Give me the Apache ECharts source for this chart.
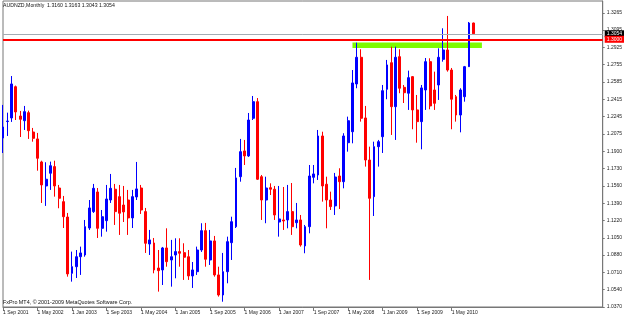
<!DOCTYPE html>
<html><head><meta charset="utf-8">
<script src="https://cdn.jsdelivr.net/npm/echarts@6/dist/echarts.min.js"></script>
<style>html,body{margin:0;padding:0;background:#fff}#c{width:625px;height:318px}</style>
</head><body><div id="c"></div>
<script>
const categories = [
'1 Sep 2001','1 Oct 2001','1 Nov 2001','1 Dec 2001',
'1 Jan 2002','1 Feb 2002','1 Mar 2002','1 Apr 2002','1 May 2002','1 Jun 2002','1 Jul 2002','1 Aug 2002','1 Sep 2002','1 Oct 2002','1 Nov 2002','1 Dec 2002',
'1 Jan 2003','1 Feb 2003','1 Mar 2003','1 Apr 2003','1 May 2003','1 Jun 2003','1 Jul 2003','1 Aug 2003','1 Sep 2003','1 Oct 2003','1 Nov 2003','1 Dec 2003',
'1 Jan 2004','1 Feb 2004','1 Mar 2004','1 Apr 2004','1 May 2004','1 Jun 2004','1 Jul 2004','1 Aug 2004','1 Sep 2004','1 Oct 2004','1 Nov 2004','1 Dec 2004',
'1 Jan 2005','1 Feb 2005','1 Mar 2005','1 Apr 2005','1 May 2005','1 Jun 2005','1 Jul 2005','1 Aug 2005','1 Sep 2005','1 Oct 2005','1 Nov 2005','1 Dec 2005',
'1 Jan 2006','1 Feb 2006','1 Mar 2006','1 Apr 2006','1 May 2006','1 Jun 2006','1 Jul 2006','1 Aug 2006','1 Sep 2006','1 Oct 2006','1 Nov 2006','1 Dec 2006',
'1 Jan 2007','1 Feb 2007','1 Mar 2007','1 Apr 2007','1 May 2007','1 Jun 2007','1 Jul 2007','1 Aug 2007','1 Sep 2007','1 Oct 2007','1 Nov 2007','1 Dec 2007',
'1 Jan 2008','1 Feb 2008','1 Mar 2008','1 Apr 2008','1 May 2008','1 Jun 2008','1 Jul 2008','1 Aug 2008','1 Sep 2008','1 Oct 2008','1 Nov 2008','1 Dec 2008',
'1 Jan 2009','1 Feb 2009','1 Mar 2009','1 Apr 2009','1 May 2009','1 Jun 2009','1 Jul 2009','1 Aug 2009','1 Sep 2009','1 Oct 2009','1 Nov 2009','1 Dec 2009',
'1 Jan 2010','1 Feb 2010','1 Mar 2010','1 Apr 2010','1 May 2010','1 Jun 2010','1 Jul 2010','1 Aug 2010','1 Sep 2010','1 Oct 2010'
];
const open = [
1.2030,1.2192,1.2227,1.2534,1.2246,1.2200,1.2279,1.2089,1.2021,1.1795,
1.1559,1.1684,1.1749,1.1539,1.1405,1.1254,1.0701,1.0766,1.0864,1.0881,
1.1146,1.1307,1.1500,1.1143,1.1218,1.1421,1.1527,1.1454,1.1372,1.1421,
1.1245,1.1451,1.1539,1.1307,1.0989,1.0999,1.0753,1.0734,1.0950,1.0832,
1.0881,1.0914,1.0904,1.0864,1.0675,1.0717,1.0930,1.1120,1.0832,1.1019,
1.0685,1.0488,1.0717,1.1002,1.1159,1.1650,1.1903,1.1854,1.2224,1.2387,
1.1650,1.1421,1.1542,1.1527,1.1205,1.1225,1.1225,1.1307,1.1198,1.1225,
1.0970,1.1159,1.1644,1.1667,1.2050,1.1576,1.1421,1.1363,1.1657,1.1601,
1.1984,1.2092,1.2561,1.2823,1.2227,1.1814,1.1454,1.1945,1.2043,1.2509,
1.2770,1.2338,1.2829,1.2528,1.2470,1.2633,1.2306,1.2191,1.2502,1.2780,
1.2502,1.2551,1.2803,1.2895,1.2698,1.2436,1.2256,1.2436,1.2731,1.3160
];
const close = [
1.2138,1.2197,1.2561,1.2286,1.2214,1.2289,1.2102,1.2027,1.1831,1.1569,
1.1625,1.1758,1.1559,1.1438,1.1257,1.0695,1.0766,1.0864,1.0901,1.1159,
1.1343,1.1536,1.1143,1.1257,1.1431,1.1536,1.1307,1.1291,1.1304,1.1245,
1.1454,1.1530,1.1323,1.0996,1.1029,1.0734,1.0727,1.0950,1.0815,1.0864,
1.0914,1.0898,1.0859,1.0675,1.0734,1.0930,1.1120,1.0839,1.1019,1.0685,
1.0488,1.0717,1.1012,1.1208,1.1638,1.1896,1.1854,1.2207,1.2387,1.1625,
1.1421,1.1539,1.1527,1.1274,1.1235,1.1215,1.1307,1.1159,1.1225,1.0979,
1.1159,1.1657,1.1677,1.2050,1.1559,1.1421,1.1356,1.1647,1.1601,1.2050,
1.2200,1.2571,1.2823,1.2224,1.1814,1.1438,1.1945,1.1994,1.2495,1.2748,
1.2338,1.2823,1.2519,1.2475,1.2623,1.2306,1.2191,1.2522,1.2780,1.2345,
1.2371,1.2823,1.2895,1.2698,1.2411,1.2256,1.2502,1.2731,1.3160,1.3054
];
const low = [
1.1883,1.2050,1.2188,1.2207,1.2040,1.2109,1.2021,1.1994,1.1709,1.1392,
1.1363,1.1520,1.1454,1.1340,1.1146,1.0668,1.0619,1.0655,1.0685,1.0864,
1.1127,1.1294,1.1048,1.1061,1.1110,1.1392,1.1176,1.1078,1.1205,1.1078,
1.1146,1.1421,1.1284,1.0901,1.0881,1.0701,1.0521,1.0586,1.0766,1.0570,
1.0652,1.0766,1.0636,1.0636,1.0557,1.0685,1.0911,1.0766,1.0783,1.0668,
1.0472,1.0422,1.0603,1.0832,1.1146,1.1601,1.1765,1.1844,1.2207,1.1618,
1.1225,1.1193,1.1470,1.1225,1.1061,1.1127,1.1143,1.1078,1.1143,1.0963,
1.0898,1.1094,1.1585,1.1618,1.1405,1.1143,1.1323,1.1274,1.1333,1.1536,
1.1896,1.1978,1.2519,1.2191,1.1749,1.0636,1.1264,1.1749,1.1883,1.2411,
1.2060,1.2011,1.2470,1.2374,1.2306,1.2116,1.1984,1.1919,1.2306,1.2312,
1.2306,1.2404,1.2780,1.2682,1.2116,1.2191,1.2086,1.2387,1.2728,1.3043
];
const high = [
1.2355,1.2279,1.2639,1.2545,1.2296,1.2345,1.2299,1.2129,1.2080,1.1807,
1.1792,1.1798,1.1807,1.1569,1.1461,1.1294,1.0914,1.0930,1.0963,1.1225,
1.1421,1.1579,1.1539,1.1323,1.1569,1.1677,1.1579,1.1569,1.1559,1.1520,
1.1520,1.1795,1.1569,1.1343,1.1127,1.1048,1.0930,1.0960,1.1143,1.1029,
1.1045,1.1045,1.0996,1.0930,1.0812,1.0963,1.1193,1.1196,1.1127,1.1068,
1.0766,1.0901,1.1061,1.1257,1.1736,1.2021,1.2011,1.2276,1.2443,1.2423,
1.1667,1.1650,1.1585,1.1559,1.1559,1.1549,1.1569,1.1588,1.1392,1.1274,
1.1176,1.1765,1.1765,1.2109,1.2092,1.1650,1.1503,1.1687,1.1733,1.2077,
1.2240,1.2698,1.2967,1.2902,1.2345,1.1945,1.1994,1.2011,1.2551,1.2797,
1.2927,1.2927,1.2902,1.2551,1.2692,1.2639,1.2453,1.2551,1.2816,1.2813,
1.2682,1.2911,1.3108,1.3229,1.2718,1.2453,1.2519,1.2738,1.3170,1.3163
];
const yTickLabels = ['1.0370','1.0540','1.0710','1.0880','1.1050','1.1220','1.1390','1.1560','1.1730','1.1900','1.2075','1.2245','1.2415','1.2585','1.2755','1.2925','1.3095','1.3265'];
const yMin = 1.037, yStep = 0.017, yMax = 1.3376;
const emptySlots = 30;
const bidPrice = 1.3054;
const levelPrice = 1.3000;
const zoneLow = 1.2915, zoneHigh = 1.2968, zoneStart = 81, zoneEnd = 111;
const symbolName = 'AUDNZD,Monthly';
const copyright = 'FxPro MT4, \u00A9 2001-2009 MetaQuotes Software Corp.';

const n = categories.length;
const axisData = categories.slice();
for (let i = 0; i < emptySlots; i++) axisData.push('pad' + i);
const ohlc = categories.map((c, i) => [open[i], close[i], low[i], high[i]]);
const last = n - 1;
const headline = symbolName + '  ' + [open[last], high[last], low[last], close[last]].map(v => v.toFixed(4)).join(' ');
const FONT = 'Liberation Sans';
const showIdx = (idx) => idx < n && idx % 8 === 0;

const chart = echarts.init(document.getElementById('c'), null, {renderer: 'canvas'});
chart.setOption({
  animation: false,
  backgroundColor: '#ffffff',
  title: [
    {text: headline, left: 3, top: 3, padding: 0, textStyle: {fontFamily: FONT, fontSize: 5.2, fontWeight: 'normal', color: '#111'}},
    {text: copyright, left: 3, top: 300, padding: 0, textStyle: {fontFamily: FONT, fontSize: 5.4, fontWeight: 'normal', color: '#111'}}
  ],
  grid: {left: 2, right: 21, top: 1, bottom: 11, show: true, borderColor: '#777', borderWidth: 1, backgroundColor: '#fff'},
  xAxis: {
    type: 'category', data: axisData, boundaryGap: false,
    axisLine: {lineStyle: {color: '#777', width: 1}},
    axisTick: {show: true, interval: showIdx, length: 4, lineStyle: {color: '#777'}},
    axisLabel: {interval: showIdx, formatter: (v) => v.startsWith('pad') ? '' : v, align: 'left', margin: 3,
      fontFamily: FONT, fontSize: 5, color: '#222'},
    splitLine: {show: false}
  },
  yAxis: {
    type: 'value', position: 'right', min: yMin, max: yMax, interval: yStep, scale: true,
    axisLine: {show: true, lineStyle: {color: '#777', width: 1}},
    axisTick: {show: true, length: 2, lineStyle: {color: '#777'}},
    axisLabel: {margin: 4, fontFamily: FONT, fontSize: 5, color: '#222', showMaxLabel: false,
      formatter: (v) => {
        const k = Math.round((v - yMin) / yStep);
        if (Math.abs(v - (yMin + k * yStep)) > 1e-6) return '';
        return yTickLabels[k] || '';
      }},
    splitLine: {show: false}
  },
  series: [
    {
      type: 'line', data: [], z: 1, silent: true,
      markArea: {silent: true, itemStyle: {color: '#7cfc00', opacity: 1},
        data: [[{xAxis: zoneStart, yAxis: zoneHigh}, {xAxis: zoneEnd, yAxis: zoneLow}]]}
    },
    {
      type: 'candlestick', data: ohlc, z: 3, barWidth: 2.4,
      itemStyle: {color: '#0000ff', color0: '#ff0000', borderColor: '#0000ff', borderColor0: '#ff0000', borderWidth: 1},
      markLine: {
        silent: true, symbol: 'none', precision: 4, z: 5,
        data: [
          {yAxis: bidPrice, lineStyle: {color: '#a3abb3', width: 1, type: 'solid'},
            label: {show: true, position: 'end', distance: 2, formatter: bidPrice.toFixed(4), color: '#fff',
              backgroundColor: '#000', padding: [1, 2], fontFamily: FONT, fontSize: 5}},
          {yAxis: levelPrice, lineStyle: {color: '#ff0000', width: 2, type: 'solid'},
            label: {show: true, position: 'end', distance: 2, formatter: levelPrice.toFixed(4), color: '#fff',
              backgroundColor: '#ff0000', padding: [1, 2], fontFamily: FONT, fontSize: 5}}
        ]
      }
    }
  ]
});
</script>
</body></html>
